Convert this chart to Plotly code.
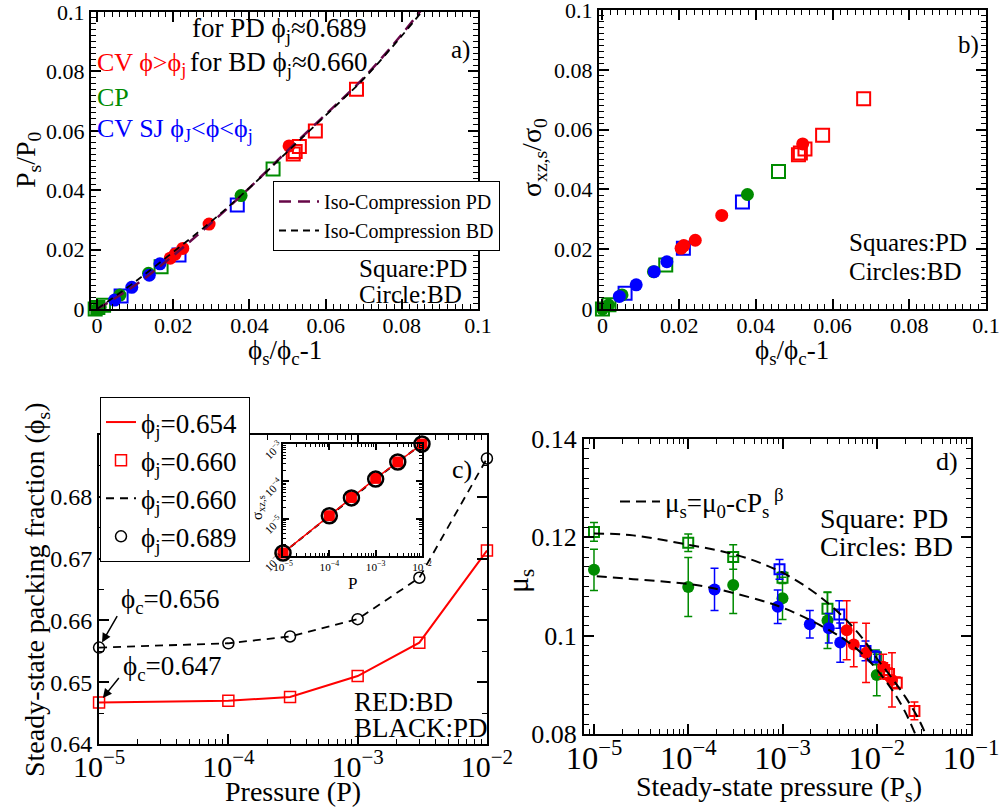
import plotly.graph_objects as go

W, H = 1002, 808
FONT = "Liberation Serif"
RED = "#ff0000"
GREEN = "rgb(0,139,0)"
BLUE = "#0000ff"
MAROON = "rgb(103,7,72)"
BLACK = "#000000"

# ---------------- Panel a data (P_s/P_0 vs phi_s/phi_c - 1) ----------------
a_pd_cv_x = [0.0681, 0.0573, 0.0531, 0.0515, 0.0520]
a_pd_cv_y = [0.0740, 0.0599, 0.0547, 0.0522, 0.0530]
a_bd_cv_x = [0.0504, 0.0294, 0.0225, 0.0205, 0.0192]
a_bd_cv_y = [0.0549, 0.0286, 0.0204, 0.0185, 0.0171]
a_pd_cp_x = [0.0462, 0.0168, 0.0017, -0.0005, 0.0002]
a_pd_cp_y = [0.0471, 0.0142, 0.0013, 0.0000, 0.0005]
a_bd_cp_x = [0.0378, 0.0135, 0.0060, 0.0008, 0.0000]
a_bd_cp_y = [0.0382, 0.0120, 0.0047, 0.0006, 0.0000]
a_pd_sj_x = [0.0368, 0.0215, 0.0063]
a_pd_sj_y = [0.0350, 0.0182, 0.0044]
a_bd_sj_x = [0.0165, 0.0137, 0.0091, 0.0046]
a_bd_sj_y = [0.0152, 0.0114, 0.0073, 0.0030]
iso_pd_x = [0.0, 0.01, 0.02, 0.03, 0.04, 0.05, 0.06, 0.07, 0.08, 0.085]
iso_pd_y = [0.0, 0.0080, 0.0180, 0.0290, 0.0408, 0.0533, 0.0655, 0.0778, 0.0925, 0.1005]
iso_bd_x = [0.0, 0.01, 0.02, 0.03, 0.04, 0.05, 0.06, 0.07, 0.08, 0.0855]
iso_bd_y = [0.0, 0.0092, 0.0192, 0.0295, 0.0408, 0.0530, 0.0652, 0.0775, 0.0920, 0.1005]
lin_ticks = [0.0, 0.02, 0.04, 0.06, 0.08, 0.1]
lin_labels = ["0", "0.02", "0.04", "0.06", "0.08", "0.1"]

# ---------------- Panel b data (sigma_xz,s/sigma_0 vs phi_s/phi_c - 1) ----------------
b_pd_cv_x = [0.0681, 0.0574, 0.0528, 0.0511, 0.0516]
b_pd_cv_y = [0.0703, 0.0581, 0.0535, 0.0516, 0.0522]
b_bd_cv_x = [0.0522, 0.0311, 0.0242, 0.0212, 0.0205]
b_bd_cv_y = [0.0552, 0.0313, 0.0230, 0.0212, 0.0203]
b_pd_cp_x = [0.0459, 0.0165, 0.0017, 0.0000]
b_pd_cp_y = [0.0460, 0.0147, 0.0014, 0.0000]
b_bd_cp_x = [0.0378, 0.0133, 0.0051, 0.0016, 0.0000]
b_bd_cp_y = [0.0383, 0.0125, 0.0047, 0.0013, 0.0000]
b_pd_sj_x = [0.0365, 0.0211, 0.0059]
b_pd_sj_y = [0.0358, 0.0203, 0.0053]
b_bd_sj_x = [0.0168, 0.0135, 0.0088, 0.0044]
b_bd_sj_y = [0.0158, 0.0125, 0.0081, 0.0042]

# ---------------- Panel c data (phi_s vs P) ----------------
c_P = [1e-5, 1e-4, 3e-4, 1e-3, 3e-3, 1e-2]
c_bd_phi = [0.6467, 0.6470, 0.6476, 0.6510, 0.6564, 0.6713]
c_pd_phi = [0.6556, 0.6563, 0.6574, 0.6602, 0.6669, 0.6862]
c_ticks = [0.64, 0.65, 0.66, 0.67, 0.68]
c_labels = ["0.64", "0.65", "0.66", "0.67", "0.68"]
inset_bd_sigma = [1.2e-6, 1.2e-5, 3.7e-5, 1.2e-4, 3.3e-4, 1.0e-3]
inset_pd_sigma = [1.2e-6, 1.2e-5, 3.6e-5, 1.15e-4, 3.3e-4, 1.0e-3]

# ---------------- Panel d data (mu_s vs P_s) ----------------
d_pd_cp_x = [1.0e-5, 1.0e-4, 3.0e-4, 1.0e-3, 3.0e-3, 9.8e-3]
d_pd_cp_y = [0.1211, 0.1189, 0.1160, 0.1118, 0.1055, 0.0956]
d_pd_cp_e = [0.0019, 0.0018, 0.0025, 0.0012, 0.0034, 0.0015]
d_pd_sj_x = [9.3e-4, 4.0e-3, 7.6e-3, 9.5e-3]
d_pd_sj_y = [0.1135, 0.1043, 0.0969, 0.0957]
d_pd_sj_e = [0.0020, 0.0028, 0.0020, 0.0012]
d_pd_cv_x = [0.0120, 0.0135, 0.0163, 0.0251]
d_pd_cv_y = [0.0930, 0.0922, 0.0904, 0.0847]
d_pd_cv_e = [0.0015, 0.0012, 0.0012, 0.0018]
d_bd_cp_x = [1.0e-5, 1.0e-4, 3.0e-4, 1.0e-3, 3.0e-3, 1.0e-2]
d_bd_cp_y = [0.1134, 0.1099, 0.1103, 0.1076, 0.1031, 0.0920]
d_bd_cp_e = [0.0042, 0.0060, 0.0058, 0.0043, 0.0057, 0.0042]
d_bd_sj_x = [1.9e-4, 8.9e-4, 1.95e-3, 3.1e-3, 4.1e-3]
d_bd_sj_y = [0.1094, 0.1059, 0.1023, 0.1015, 0.0986]
d_bd_sj_e = [0.0043, 0.0034, 0.0028, 0.0030, 0.0040]
d_bd_cv_x = [4.8e-3, 5.7e-3, 7.7e-3, 0.0117, 0.0145]
d_bd_cv_y = [0.1011, 0.0982, 0.0965, 0.0937, 0.0910]
d_bd_cv_e = [0.0060, 0.0045, 0.0060, 0.0025, 0.0055]
fit_pd_x = [1.0e-5, 2.6e-5, 1.0e-4, 3.0e-4, 5.8e-4, 1.0e-3, 1.8e-3, 3.0e-3,
            4.8e-3, 7.3e-3, 1.0e-2, 1.5e-2, 2.0e-2, 2.7e-2, 3.3e-2]
fit_pd_y = [0.1208, 0.1204, 0.1185, 0.1166, 0.1148, 0.1128, 0.1099, 0.1067,
            0.1031, 0.0991, 0.0954, 0.0910, 0.0876, 0.0835, 0.0800]
fit_bd_x = [1.07e-5, 2.6e-5, 1.0e-4, 1.9e-4, 5.8e-4, 1.0e-3, 1.9e-3, 3.0e-3,
            4.8e-3, 7.3e-3, 1.0e-2, 1.5e-2, 2.0e-2, 2.56e-2]
fit_bd_y = [0.1121, 0.1115, 0.1105, 0.1096, 0.1072, 0.1057, 0.1033, 0.1013,
            0.0989, 0.0960, 0.0931, 0.0886, 0.0845, 0.0800]


def dx(l, r):
    return [l / W, r / W]


def dy(t, b):
    return [1 - b / H, 1 - t / H]


fig = go.Figure()


def pts(x, y, sym, color, xa, ya, size, err=None):
    open_ = sym.endswith("open")
    m = dict(symbol=sym, size=size, color=color,
             line=dict(color=color, width=2 if open_ else 0))
    kw = {}
    if err is not None:
        kw["error_y"] = dict(type="data", array=err, color=color,
                             thickness=1.5, width=4)
    fig.add_trace(go.Scatter(x=x, y=y, mode="markers", marker=m, xaxis=xa,
                             yaxis=ya, showlegend=False, cliponaxis=False,
                             hoverinfo="skip", **kw))


# Panel a
for xs, ys, s, c in [(a_pd_cv_x, a_pd_cv_y, "square-open", RED),
                     (a_pd_cp_x, a_pd_cp_y, "square-open", GREEN),
                     (a_pd_sj_x, a_pd_sj_y, "square-open", BLUE),
                     (a_bd_cv_x, a_bd_cv_y, "circle", RED),
                     (a_bd_cp_x, a_bd_cp_y, "circle", GREEN),
                     (a_bd_sj_x, a_bd_sj_y, "circle", BLUE)]:
    pts(xs, ys, s, c, "x", "y", 13)
fig.add_trace(go.Scatter(x=iso_pd_x, y=iso_pd_y, mode="lines", line_shape="spline",
                         line=dict(color=MAROON, width=2.5, dash="12px,7px"),
                         name="Iso-Compression PD", legend="legend",
                         xaxis="x", yaxis="y"))
fig.add_trace(go.Scatter(x=iso_bd_x, y=iso_bd_y, mode="lines", line_shape="spline",
                         line=dict(color=BLACK, width=1.8, dash="7px,5px"),
                         name="Iso-Compression BD", legend="legend",
                         xaxis="x", yaxis="y"))

# Panel b
for xs, ys, s, c in [(b_pd_cv_x, b_pd_cv_y, "square-open", RED),
                     (b_pd_cp_x, b_pd_cp_y, "square-open", GREEN),
                     (b_pd_sj_x, b_pd_sj_y, "square-open", BLUE),
                     (b_bd_cv_x, b_bd_cv_y, "circle", RED),
                     (b_bd_cp_x, b_bd_cp_y, "circle", GREEN),
                     (b_bd_sj_x, b_bd_sj_y, "circle", BLUE)]:
    pts(xs, ys, s, c, "x2", "y2", 13)

# Panel c
fig.add_trace(go.Scatter(x=c_P, y=c_bd_phi, mode="lines",
                         line=dict(color=RED, width=2),
                         name="ϕ<sub>j</sub>=0.654", legend="legend2",
                         xaxis="x3", yaxis="y3"))
fig.add_trace(go.Scatter(x=c_P, y=c_bd_phi, mode="markers", cliponaxis=False,
                         marker=dict(symbol="square-open", size=11, color=RED,
                                     line=dict(color=RED, width=1.5)),
                         name="ϕ<sub>j</sub>=0.660", legend="legend2",
                         xaxis="x3", yaxis="y3"))
fig.add_trace(go.Scatter(x=c_P, y=c_pd_phi, mode="lines",
                         line=dict(color=BLACK, width=1.8, dash="8px,6px"),
                         name="ϕ<sub>j</sub>=0.660 ", legend="legend2",
                         xaxis="x3", yaxis="y3"))
fig.add_trace(go.Scatter(x=c_P, y=c_pd_phi, mode="markers", cliponaxis=False,
                         marker=dict(symbol="circle-open", size=11, color=BLACK,
                                     line=dict(color=BLACK, width=1.5)),
                         name="ϕ<sub>j</sub>=0.689", legend="legend2",
                         xaxis="x3", yaxis="y3"))

# Inset of c
fig.add_trace(go.Scatter(x=c_P, y=inset_pd_sigma, mode="lines",
                         line=dict(color=BLACK, width=2, dash="6px,4px"),
                         showlegend=False, xaxis="x5", yaxis="y5"))
fig.add_trace(go.Scatter(x=c_P, y=inset_bd_sigma, mode="markers", cliponaxis=False,
                         marker=dict(symbol="square", size=11, color=RED),
                         showlegend=False, xaxis="x5", yaxis="y5"))
fig.add_trace(go.Scatter(x=c_P, y=inset_bd_sigma, mode="lines",
                         line=dict(color=RED, width=1.5),
                         showlegend=False, xaxis="x5", yaxis="y5"))
fig.add_trace(go.Scatter(x=c_P, y=inset_pd_sigma, mode="markers", cliponaxis=False,
                         marker=dict(symbol="circle-open", size=15, color=BLACK,
                                     line=dict(color=BLACK, width=2.5)),
                         showlegend=False, xaxis="x5", yaxis="y5"))

# Panel d
for xs, ys, es, s, c in [(d_pd_cp_x, d_pd_cp_y, d_pd_cp_e, "square-open", GREEN),
                         (d_bd_cp_x, d_bd_cp_y, d_bd_cp_e, "circle", GREEN),
                         (d_bd_sj_x, d_bd_sj_y, d_bd_sj_e, "circle", BLUE),
                         (d_pd_sj_x, d_pd_sj_y, d_pd_sj_e, "square-open", BLUE),
                         (d_bd_cv_x, d_bd_cv_y, d_bd_cv_e, "circle", RED),
                         (d_pd_cv_x, d_pd_cv_y, d_pd_cv_e, "square-open", RED)]:
    pts(xs, ys, s, c, "x4", "y4", 10 if s == "square-open" else 12, err=es)
fig.add_trace(go.Scatter(x=fit_pd_x, y=fit_pd_y, mode="lines", line_shape="spline",
                         line=dict(color=BLACK, width=2, dash="10px,6px"),
                         name="μ<sub>s</sub>=μ<sub>0</sub>-cP<sub>s</sub><sup> β</sup>",
                         legend="legend3", xaxis="x4", yaxis="y4"))
fig.add_trace(go.Scatter(x=fit_bd_x, y=fit_bd_y, mode="lines", line_shape="spline",
                         line=dict(color=BLACK, width=2, dash="10px,6px"),
                         showlegend=False, xaxis="x4", yaxis="y4"))


def ax(size, **kw):
    d = dict(showline=True, linecolor=BLACK, linewidth=2, mirror="allticks",
             ticks="inside", ticklen=10, tickwidth=1.5, tickcolor=BLACK,
             showgrid=False, zeroline=False, automargin=False,
             ticklabeloverflow="allow",
             tickfont=dict(family=FONT, size=size, color=BLACK))
    d.update(kw)
    return d


def minor_lin(dt):
    return dict(ticks="inside", ticklen=5, tickwidth=1, tickcolor=BLACK, dtick=dt, showgrid=False)


minor_log = dict(ticks="inside", ticklen=5, tickwidth=1, tickcolor=BLACK, dtick="D1", showgrid=False)
EPS = 0.0005

fig.update_layout(
    width=W, height=H, autosize=False,
    margin=dict(l=0, r=0, t=0, b=0),
    paper_bgcolor="white", plot_bgcolor="white",
    font=dict(family=FONT, color=BLACK),
    xaxis=ax(22, domain=dx(91, 478), anchor="y", range=[-0.0016, 0.1],
             tickvals=lin_ticks, ticktext=lin_labels, minor=minor_lin(0.002),
             ticklabelstandoff=-4),
    yaxis=ax(22, domain=dy(12, 309), anchor="x", range=[0, 0.1],
             tickvals=lin_ticks, ticktext=lin_labels, minor=minor_lin(0.002)),
    xaxis2=ax(22, domain=dx(599, 986), anchor="y2", range=[-0.0009, 0.1],
              tickvals=lin_ticks, ticktext=lin_labels, minor=minor_lin(0.002),
              ticklabelstandoff=-4),
    yaxis2=ax(22, domain=dy(10, 309), anchor="x2", range=[0, 0.1],
              tickvals=lin_ticks, ticktext=lin_labels, minor=minor_lin(0.002)),
    xaxis3=ax(24, domain=dx(99, 487), anchor="y3", type="log", range=[-5 - EPS, -2 + EPS],
              dtick=1, exponentformat="power", minor=minor_log, ticklabelstandoff=-4),
    yaxis3=ax(24, domain=dy(435, 744), anchor="x3", range=[0.64, 0.69],
              tickvals=c_ticks, ticktext=c_labels,
              minor=dict(ticks="inside", ticklen=5, tickwidth=1, tickcolor=BLACK,
                         dtick=0.005, tick0=0.64)),
    xaxis4=ax(26, domain=dx(584, 971), anchor="y4", type="log", range=[-5.106, -1],
              dtick=1, exponentformat="power", minor=minor_log, ticklabelstandoff=-5),
    yaxis4=ax(26, domain=dy(439, 734), anchor="x4", range=[0.08, 0.14], dtick=0.02,
              minor=minor_lin(0.002)),
    xaxis5=ax(9, domain=dx(283, 422), anchor="y5", type="log", range=[-5 - EPS, -2 + EPS],
              dtick=1, exponentformat="power", ticklen=6, linewidth=1.5,
              minor=dict(ticks="inside", ticklen=3, tickwidth=1, tickcolor=BLACK, dtick="D1")),
    yaxis5=ax(9, domain=dy(444, 556), anchor="x5", type="log", range=[-6 - EPS, -3 + EPS],
              dtick=1, exponentformat="power", ticklen=6, linewidth=1.5, tickangle=-45,
              minor=dict(ticks="inside", ticklen=3, tickwidth=1, tickcolor=BLACK, dtick="D1")),
    legend=dict(x=273 / W, y=1 - 181 / H, xanchor="left", yanchor="top",
                bgcolor="white", bordercolor=BLACK, borderwidth=1,
                font=dict(family=FONT, size=20, color=BLACK),
                tracegroupgap=0, itemwidth=40),
    legend2=dict(x=100 / W, y=1 - 397 / H, xanchor="left", yanchor="top",
                 bgcolor="white", bordercolor=BLACK, borderwidth=1,
                 font=dict(family=FONT, size=27, color=BLACK),
                 tracegroupgap=0, itemwidth=30),
    legend3=dict(x=615 / W, y=1 - 502 / H, xanchor="left", yanchor="middle",
                 bgcolor="rgba(0,0,0,0)", borderwidth=0,
                 font=dict(family=FONT, size=27, color=BLACK), itemwidth=40),
)


def note(text, x, y, size=25, color=BLACK, xanchor="left", angle=0):
    fig.add_annotation(text=text, x=x / W, y=1 - y / H, xref="paper", yref="paper",
                       showarrow=False, xanchor=xanchor, yanchor="middle",
                       textangle=angle, font=dict(family=FONT, size=size, color=color))


# Panel a texts
note("for PD ϕ<sub>j</sub>≈0.689", 190, 30, size=27)
note("CV ϕ&gt;ϕ<sub>j</sub>", 95, 64, size=26, color=RED)
note("for BD ϕ<sub>j</sub>≈0.660", 188, 64, size=27)
note("CP", 95, 97, size=26, color=GREEN)
note("CV SJ ϕ<sub>J</sub>&lt;ϕ&lt;ϕ<sub>j</sub>", 95, 130, size=26, color=BLUE)
note("a)", 460, 50, size=25, xanchor="center")
note("Square:PD", 357, 268)
note("Circle:BD", 357, 294)
note("P<sub>s</sub>/P<sub>0</sub>", 28, 160, size=28, xanchor="center", angle=-90)
note("ϕ<sub>s</sub>/ϕ<sub>c</sub>-1", 285, 352, size=27, xanchor="center")

# Panel b texts
note("b)", 968, 45, size=25, xanchor="center")
note("Squares:PD", 847, 242)
note("Circles:BD", 847, 271)
note("σ<sub>xz,s</sub>/σ<sub>0</sub>", 534, 158, size=28, xanchor="center", angle=-90)
note("ϕ<sub>s</sub>/ϕ<sub>c</sub>-1", 792, 352, size=27, xanchor="center")

# Panel c texts
note("c)", 462, 470, size=26, xanchor="center")
note("ϕ<sub>c</sub>=0.656", 119, 601, size=27)
note("ϕ<sub>c</sub>=0.647", 121, 668, size=27)
note("RED:BD", 352, 702, size=27)
note("BLACK:PD", 352, 728, size=27)
note("Pressure (P)", 293, 791, size=28, xanchor="center")
note("Steady-state packing fraction (ϕ<sub>s</sub>)", 36, 590, size=28, xanchor="center", angle=-90)
note("σ<sub>xz,s</sub>", 258, 508, size=15, xanchor="center", angle=-90)
note("P", 352, 583, size=17, xanchor="center")
for yv, axo, ayo in [(c_pd_phi[0], 19, -33), (c_bd_phi[0], 21, -26)]:
    fig.add_annotation(x=-5, y=yv, xref="x3", yref="y3", text="", showarrow=True,
                       ax=axo, ay=ayo, axref="pixel", ayref="pixel",
                       arrowhead=2, arrowsize=1.2, arrowwidth=1.5, arrowcolor=BLACK,
                       standoff=6)

# Panel d texts
note("d)", 947, 462, size=26, xanchor="center")
note("Square: PD", 818, 518, size=28)
note("Circles: BD", 818, 546, size=28)
note("Steady-state pressure (P<sub>s</sub>)", 779, 788, size=28, xanchor="center")
note("μ<sub>s</sub>", 520, 581, size=30, xanchor="center", angle=-90)

fig.write_html("out.html")
